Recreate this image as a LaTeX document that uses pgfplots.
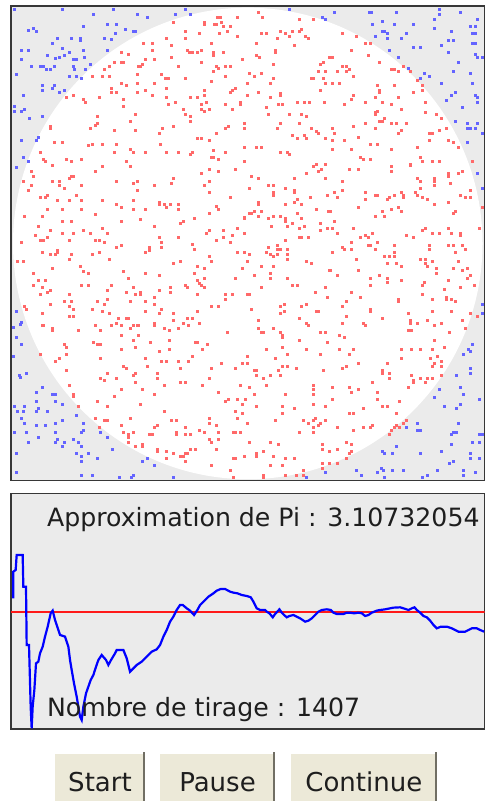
\documentclass[border=0pt]{standalone}
\usepackage{fontspec}
\setmainfont{DejaVu Sans}
\usepackage{pgfplots}
\pgfplotsset{compat=1.18}
\definecolor{panelgray}{RGB}{235,235,235}
\definecolor{framegray}{RGB}{55,55,55}
\definecolor{inpt}{RGB}{255,105,105}
\definecolor{outpt}{RGB}{100,100,255}
\definecolor{btnface}{RGB}{236,233,216}
\definecolor{btnshadow}{RGB}{113,111,100}
\definecolor{textdark}{RGB}{30,30,30}
\begin{document}
\begin{tikzpicture}
\path[use as bounding box] (0,0) rectangle (242.5pt,-400.5pt);
% --- points panel (coordinates in screen pixels x3) ---
\begin{axis}[
  at={(5.5pt,-240.25pt)}, anchor=south west,
  scale only axis, width=236.75pt, height=237.25pt,
  xmin=33, xmax=1453, ymin=18, ymax=1441, y dir=reverse,
  ticks=none, axis line style={framegray, line width=0.8pt},
  axis background/.style={fill=panelgray},
]
\fill[white] (axis cs:743,730) ellipse [x radius=704, y radius=707];
% outside the circle
\addplot[outpt, only marks, mark=square*, mark size=0.5pt, mark options={solid, fill=outpt, draw=outpt, line width=0.1pt}] coordinates {
(42,27) (185,27) (278,43) (340,27) (411,43) (440,51) (84,91) (99,85) (107,93) (249,77)
(321,71) (348,73) (376,87) (398,92) (406,92) (345,99) (170,114) (213,114) (241,115) (241,121)
(156,128) (313,115) (334,117) (63,149) (85,149) (185,143) (249,149) (320,149) (140,165) (164,175)
(178,171) (191,164) (207,156) (64,177) (220,178) (229,178) (252,171) (92,199) (119,199) (129,199)
(138,206) (150,206) (163,199) (219,199) (222,207) (269,193) (256,206) (49,221) (206,227) (228,227)
(242,233) (127,256) (127,270) (156,263) (163,256) (192,270) (177,277) (70,284) (42,319) (42,333)
(63,334) (71,327) (86,355) (127,348) (64,419) (107,419) (114,412) (70,471) (85,483)
(526,43) (555,27) (570,43) (868,27) (967,51) (975,58)
(1003,35) (1106,35) (1112,35) (1188,35) (1316,27) (1316,42) (1380,35) (1146,63) (1117,71) (1181,71)
(1238,71) (1302,57) (1430,57) (1409,77) (1424,77) (1146,92) (1153,92) (1160,99) (1124,107) (1217,99)
(1302,85) (1352,92) (1416,99) (1424,99) (1160,114) (1202,114) (1345,120) (1359,120) (1416,128) (1424,128)
(1166,150) (1238,142) (1259,142) (1323,135) (1345,156) (1424,163) (1430,170) (1445,170) (1195,170) (1373,185)
(1224,205) (1359,213) (1273,220) (1288,227) (1259,234) (1409,220) (1323,249) (1416,249) (1366,277) (1352,284)
(1424,284) (1430,291) (1338,299) (1430,306) (1387,320) (1366,363) (1402,370) (1430,370) (1402,384) (1409,384)
(1424,384) (1445,398) (1402,426)
(49,500) (49,933) (64,965) (59,971) (1430,520) (1445,563) (1445,911) (1445,940)
(40,980) (48,1012) (63,1033) (40,1068) (56,1126) (61,1132) (78,1118) (127,1161) (107,1175) (157,1182)
(164,1182) (42,1218) (71,1218) (107,1204) (50,1232) (70,1232) (107,1232) (114,1225) (142,1232) (164,1204)
(185,1211) (64,1253) (71,1268) (107,1275) (135,1275) (164,1268) (185,1261) (227,1246) (249,1268) (42,1296)
(78,1296) (114,1310) (164,1296) (242,1296) (249,1289) (299,1296) (85,1325) (164,1325) (171,1318) (192,1325)
(185,1339) (220,1318) (235,1325) (242,1339) (320,1310) (335,1346) (49,1360) (228,1360) (263,1360) (242,1367)
(242,1382) (292,1375) (427,1382) (441,1375) (462,1396) (49,1417) (242,1424) (277,1424) (356,1432) (392,1432)
(399,1424) (520,1432) (918,1432) (975,1417) (1068,1410) (1082,1424) (1132,1417) (1142,1403) (1150,1410) (1175,1410)
(1153,1432) (1210,1410) (1146,1353) (1153,1360) (1175,1360) (1189,1339) (1260,1360) (1267,1432) (1282,1424) (1310,1410)
(1324,1353) (1346,1389) (1360,1382) (1388,1410) (1388,1424) (1424,1417) (1410,1360) (1410,1375) (1438,1375) (1417,1325)
(1438,1325) (1354,1332) (1353,1303) (1360,1296) (1438,1303) (1445,1303) (1374,1268) (1367,1296) (1252,1268) (1252,1289)
(1260,1289) (1218,1282) (1331,1218) (1367,1225) (1381,1211) (1388,1182) (1381,1161) (1438,1196) (1302,1190) (1317,1168)
(1367,1126) (1410,1104) (1410,1118) (1388,1061) (1403,1047) (1410,1054) (1417,1033)
};
% inside the circle
\addplot[inpt, only marks, mark=square*, mark size=0.5pt, mark options={solid, fill=inpt, draw=inpt, line width=0.1pt}] coordinates {
(498,115) (428,128) (455,128) (455,149) (363,156) (385,163) (435,177) (463,177) (341,185) (364,185)
(370,185) (420,199) (426,193) (414,199) (327,199) (313,206) (277,227) (306,227) (328,227) (411,221)
(482,221) (495,234) (504,234) (363,249) (377,256) (411,249) (462,249) (334,263) (334,277) (349,277)
(411,277) (435,270) (455,284) (498,263) (220,284) (198,291) (298,291) (249,298) (256,306) (370,298)
(370,319) (498,291) (504,312) (405,341) (291,348) (292,369) (286,375) (270,384) (341,391) (391,363)
(405,391) (150,377) (150,384) (485,384) (477,398) (163,426) (185,425) (263,435) (277,433) (306,433)
(348,433) (480,433) (121,455) (342,455) (390,448) (399,455) (434,455) (497,455) (128,477) (136,483)
(198,477) (213,483) (243,477) (377,483)
(775,35) (785,51) (650,51) (660,51) (712,51) (520,65) (611,65) (611,72) (641,72) (648,72)
(662,65) (669,79) (690,79) (897,58) (940,58) (555,93) (597,100) (656,100) (680,93) (783,100)
(797,100) (840,93) (854,100) (876,93) (897,93) (904,86) (916,108) (924,115) (555,115) (711,108)
(832,115) (868,108) (512,135) (633,128) (768,128) (883,135) (562,150) (568,156) (576,156) (590,156)
(604,149) (640,156) (640,164) (668,156) (825,149) (825,156) (767,164) (776,171) (512,170) (725,177)
(986,170) (533,199) (604,185) (647,199) (654,205) (676,199) (690,199) (640,213) (818,192) (969,185)
(961,192) (953,213) (975,213) (555,235) (676,227) (747,220) (761,227) (783,220) (818,234) (934,234)
(940,234) (968,234) (633,242) (740,249) (810,249) (975,249) (612,270) (704,263) (697,270) (690,277)
(612,285) (569,291) (590,291) (740,284) (775,277) (811,291) (840,278) (840,285) (961,270) (526,307)
(604,312) (619,305) (676,312) (719,305) (719,312) (833,312) (847,312) (890,307) (911,307) (926,307)
(971,307) (548,327) (604,327) (626,327) (697,327) (797,320) (555,341) (612,334) (804,341) (868,341)
(904,341) (918,348) (569,348) (569,363) (518,377) (683,377) (676,384) (733,370) (733,384) (840,370)
(832,384) (897,370) (932,384) (947,392) (954,398) (647,398) (590,413) (604,413) (626,420) (876,406)
(890,413) (911,406) (918,413) (976,413) (533,455) (569,463) (576,455) (640,449) (676,455) (733,441)
(769,441) (783,441) (840,456) (861,456) (868,463) (633,470) (640,470) (654,477) (733,484) (947,491)
(976,491)
(1025,99) (1067,107) (1096,128) (1110,128) (995,170) (1053,149) (1103,164) (1138,185) (1025,199) (1039,199)
(1046,206) (1039,213) (1010,213) (1174,206) (1181,206) (1195,213) (1209,199) (1060,227) (1231,213) (995,248)
(1017,248) (1131,255) (1181,255) (1252,241) (1266,255) (1137,270) (1137,277) (1060,284) (1238,277) (1266,270)
(1053,298) (1124,291) (1195,291) (1031,312) (1096,306) (1146,306) (1174,312) (1274,305) (1124,335) (1131,334)
(1124,341) (1202,327) (1274,335) (1308,341) (1096,370) (1138,363) (1146,362) (1152,355) (1174,370) (1188,370)
(1217,370) (1323,355) (995,384) (1060,377) (1124,384) (1337,384) (1202,391) (1195,398) (1287,398) (1316,391)
(1295,398) (1002,398) (1031,419) (995,419) (1075,412) (1110,433) (1131,433) (1174,448) (1252,441) (1288,419)
(1344,419) (1359,426) (1373,441) (995,448) (1053,448) (1080,470) (1089,477) (1110,477) (1259,470) (1266,484)
(1295,484) (1316,484) (1230,491) (1416,484)
(92,513) (99,528) (155,495) (70,542) (92,556) (85,570) (156,542) (177,542) (177,556) (192,563)
(206,535) (213,528) (220,528) (242,556) (284,513) (305,499) (348,542) (391,499) (398,549) (412,542)
(412,570) (462,556) (120,592) (135,592) (142,585) (170,599) (206,599) (227,585) (242,599) (305,599)
(348,613) (362,620) (398,599) (398,627) (434,627) (476,606) (476,613) (491,613) (498,620) (142,627)
(185,627) (242,627) (71,649) (127,649) (185,663) (213,663) (284,642) (362,663) (419,656) (113,677)
(149,691) (185,698) (220,698) (249,691) (270,698) (305,684) (320,698) (462,677) (106,706) (142,712)
(121,720) (128,720) (206,720) (284,720) (298,720) (313,727) (476,712) (484,727) (484,741) (64,727)
(348,741) (363,734) (448,741) (448,749) (434,755) (127,755) (149,763) (164,763) (170,749) (170,755)
(213,763) (277,763) (298,755) (206,777) (50,784) (70,784) (327,777) (156,805) (241,798) (249,812)
(263,819) (99,819) (370,812) (434,819) (384,833) (476,826) (114,840) (135,840) (99,855) (242,855)
(263,855) (334,855) (127,862) (149,869) (142,876) (398,862) (476,869) (320,869) (377,876) (406,883)
(419,876) (419,883) (120,883) (206,883) (462,890) (320,897) (291,904) (313,911) (192,904) (213,904)
(149,911) (391,904) (434,904) (462,911) (206,919) (220,926) (277,926) (306,933) (327,940) (71,919)
(78,926) (127,940) (434,933) (476,940) (484,926) (206,947) (220,947) (355,954) (377,954) (384,954)
(348,968) (398,975) (412,975) (462,968) (127,975)
(626,507) (655,513) (704,507) (604,520) (518,535) (512,549) (626,542) (611,556) (753,528) (775,535)
(746,563) (626,577) (689,591) (804,556) (818,556) (818,577) (818,584) (854,563) (882,535) (882,570)
(882,577) (918,520) (940,499) (955,513) (962,507) (976,535) (931,591) (982,584) (890,598) (882,605)
(904,612) (854,612) (510,612) (533,612) (533,626) (647,619) (654,626) (775,605) (775,612) (761,633)
(754,640) (747,640) (732,650) (732,655) (782,633) (775,647) (804,655) (818,647) (840,647) (854,655)
(854,662) (890,640) (947,626) (984,633) (626,640) (583,655) (548,662) (540,669) (812,677) (860,677)
(875,669) (902,655) (911,677) (961,669) (961,690) (982,684) (533,712) (626,691) (618,698) (669,691)
(669,712) (711,684) (697,705) (732,698) (647,719) (690,726) (854,719) (896,684) (896,712) (904,712)
(925,712) (576,733) (583,748) (804,741) (832,734) (832,748) (839,748) (811,762) (832,762) (860,748)
(860,762) (860,776) (818,769) (797,755) (711,755) (732,755) (747,762) (626,769) (633,783) (519,790)
(540,783) (740,783) (918,783) (932,790) (590,797) (611,804) (782,797) (818,797) (725,804) (988,811)
(583,819) (761,826) (811,819) (811,833) (861,833) (704,833) (611,833) (590,840) (597,848) (604,854)
(612,862) (554,854) (562,862) (510,862) (510,876) (590,883) (676,883) (697,883) (740,883) (747,883)
(782,862) (875,854) (890,854) (975,862) (946,876) (982,890) (676,897) (853,911) (918,911) (904,919)
(633,919) (655,919) (754,926) (839,919) (590,933) (853,933) (947,933) (954,933) (519,940) (840,940)
(562,954) (576,954) (896,954) (519,961) (775,961) (548,968) (597,968) (918,968) (925,975)
(1046,506) (1074,506) (1174,499) (1174,513) (1230,495) (1025,542) (1025,570) (1003,577) (1010,591) (1096,577)
(1096,598) (1124,584) (1131,584) (1160,598) (1167,591) (1181,584) (1202,577) (1209,584) (1209,591) (1252,535)
(1259,542) (1301,535) (1301,542) (1301,556) (1259,563) (1344,520) (1344,527) (1373,520) (1387,513) (1351,549)
(1245,577) (1252,584) (1266,591) (1280,598) (1301,612) (1344,605) (1380,584) (1394,591) (1409,591) (1409,570)
(1445,620) (990,633) (1074,620) (1124,648) (1145,633) (1153,648) (1174,626) (1195,620) (1202,633) (1358,640)
(1366,633) (1002,662) (996,684) (1010,698) (1060,684) (1081,712) (1096,705) (1103,712) (1117,698) (1103,734)
(1110,734) (1131,726) (1124,748) (1053,726) (1025,741) (1032,748) (1053,748) (996,755) (1217,705) (1238,712)
(1266,691) (1274,684) (1295,698) (1316,698) (1344,684) (1352,698) (1380,698) (1380,705) (1436,684) (1181,734)
(1181,755) (1288,734) (1288,748) (1344,734) (1359,734) (1387,734) (1394,748) (1366,755) (1153,769) (1167,769)
(1181,769) (1160,790) (1188,790) (1202,797) (1259,776) (1274,776) (1274,790) (1281,797) (1295,783) (1309,804)
(1309,819) (1373,783) (1359,804) (1387,811) (1402,804) (1409,826) (1402,833) (1067,776) (1074,811) (990,811)
(1010,826) (1110,833) (1110,854) (1138,826) (1160,833) (1160,847) (1202,840) (1273,847) (1266,854) (1345,840)
(1380,861) (1422,854) (1331,868) (1338,890) (1338,897) (1352,897) (1366,904) (1266,883) (1295,897) (1053,876)
(1081,890) (1039,904) (1025,919) (1195,897) (1195,904) (1110,926) (1110,933) (1223,940) (1295,933) (1352,933)
(1409,940) (1430,947) (1039,947) (1146,954) (1025,968) (1088,968) (1096,975) (1230,961) (1230,968) (1252,968)
(1280,961) (1323,968) (1387,961)
(129,975) (156,983) (156,990) (235,990) (285,975) (299,990) (334,975) (363,975) (391,983) (400,975)
(413,975) (463,975) (491,983) (506,990) (534,983) (563,975) (682,997) (775,983) (782,997) (790,997)
(818,983) (839,997) (846,1005) (846,1012) (925,975) (960,997) (975,997) (1018,1005) (1032,1012) (1096,975)
(1225,990) (1232,990) (1303,975) (1346,997) (1396,983)
(192,1033) (278,1026) (292,1033) (299,1033) (363,1004) (399,1019) (413,1004) (449,1026) (506,1019) (584,1026)
(591,1026) (620,1033) (896,1019) (981,1026) (1303,1019) (1331,1040)
(199,1040) (199,1061) (120,1061) (299,1075) (363,1047) (405,1040) (477,1054) (506,1047) (605,1047) (797,1047)
(846,1040) (860,1061) (917,1047) (960,1061) (1017,1047) (1046,1061) (1060,1047) (1203,1047) (1232,1047) (1260,1047)
(1296,1047) (1310,1068)
(164,1083) (178,1075) (199,1111) (434,1075) (441,1097) (484,1083) (498,1083) (534,1083) (563,1083) (577,1068)
(662,1090) (705,1104) (727,1090) (741,1090) (741,1068) (762,1111) (769,1111) (826,1075) (847,1097) (861,1097)
(889,1104) (968,1111) (1025,1104) (1039,1097) (1075,1090) (1146,1111) (1160,1090) (1203,1075) (1289,1075) (1296,1097)
(1303,1090) (1324,1083) (1324,1097)
(206,1154) (299,1133) (313,1140) (320,1118) (348,1133) (370,1097) (377,1104) (399,1125) (406,1118) (406,1147)
(470,1118) (470,1133) (491,1154) (541,1147) (555,1147) (541,1104) (605,1154) (627,1133) (633,1104) (655,1175)
(719,1154) (747,1161) (769,1125) (790,1133) (797,1154) (811,1125) (833,1111) (840,1125) (939,1154) (939,1168)
(996,1161) (1046,1161) (1053,1175) (1075,1168) (1117,1147) (1131,1175) (1146,1118) (1167,1118) (1167,1133) (1225,1161)
(1232,1125) (1239,1140) (1239,1147) (1260,1133) (1275,1147) (1282,1133) (1296,1133) (1324,1125)
(220,1182) (220,1189) (235,1218) (292,1204) (320,1218) (341,1189) (363,1168) (391,1253) (420,1211) (463,1182)
(491,1232) (427,1168) (675,1204) (684,1196) (712,1196) (727,1211) (734,1196) (762,1182) (769,1218) (705,1232)
(712,1254) (846,1218) (847,1239) (854,1182) (882,1225) (939,1182) (939,1211) (975,1218) (996,1196) (1046,1239)
(1060,1239) (1089,1225) (1132,1196) (1132,1175) (1146,1218) (1160,1218) (1196,1204) (1189,1239)
(284,1254) (313,1261) (320,1261) (363,1275) (470,1275) (513,1261) (527,1261) (555,1282) (627,1254) (627,1268)
(648,1275) (727,1239) (740,1268) (826,1261) (910,1261) (925,1268) (939,1261) (946,1254) (953,1275) (960,1268)
(975,1261) (939,1282) (1011,1282) (1060,1289) (1089,1282) (1110,1282) (1117,1275) (1174,1289) (1182,1282) (1189,1275)
(1196,1282) (1210,1268) (1217,1261) (1167,1303)
(298,1282) (370,1296) (384,1303) (384,1310) (399,1296) (384,1325) (405,1339) (427,1332) (427,1339) (448,1303)
(456,1303) (463,1282) (527,1296) (527,1303) (555,1303) (570,1303) (598,1289) (612,1296) (633,1325) (627,1318)
(655,1296) (655,1318) (698,1296) (705,1296) (719,1296) (747,1325) (811,1325) (833,1332) (896,1296) (939,1296)
(967,1332) (1038,1325) (1053,1332)
(470,1346) (470,1353) (498,1353) (520,1360) (541,1367) (548,1367) (555,1360) (562,1360) (570,1346) (555,1382)
(498,1375) (584,1346) (648,1346) (698,1375) (705,1375) (733,1367) (769,1360) (769,1367) (790,1353) (818,1367)
(854,1375) (882,1375) (967,1346) (988,1353) (1010,1346) (1046,1360) (1053,1353) (1039,1375) (967,1389) (988,1389)
(1010,1389)
(633,1396) (690,1410) (811,1396) (847,1396) (790,1424) (790,1432) (854,1424) (889,1424) (910,1424) (910,1410)
(967,1403) (698,1432)
};
\end{axis}
% --- convergence panel ---
\begin{axis}[
  at={(5.5pt,-364.5pt)}, anchor=south west,
  scale only axis, width=236.75pt, height=117.85pt,
  xmin=33, xmax=1453, ymin=10, ymax=717, y dir=reverse,
  ticks=none, axis line style={framegray, line width=0.8pt},
  axis background/.style={fill=panelgray},
]
\addplot[red!90!white, line width=1.1pt] coordinates {(33,367) (1453,367)};
\addplot[blue, line width=1.1pt] coordinates {
(40,325) (40,245) (47,240) (50,195) (68,195) (70,290) (78,290) (80,465) (87,465) (92,650)
(95,715) (98,650) (103,600) (108,520) (115,515) (120,490) (128,470) (135,440) (143,410) (152,370)
(158,362) (165,390) (175,420) (180,435) (195,440) (205,470) (210,510) (215,540) (222,580) (230,620)
(240,680) (245,690) (250,650) (258,610) (265,590) (272,570) (280,555) (288,530) (295,510) (305,495)
(318,510) (325,525) (333,510) (345,490) (350,480) (370,480) (380,505) (390,545) (400,535) (410,525)
(425,515) (435,505) (445,495) (455,485) (470,478) (480,465) (490,440) (500,420) (510,395) (520,380)
(530,360) (540,345) (548,345) (560,355) (570,362) (582,375) (592,360) (600,345) (610,335) (625,320)
(640,310) (650,302) (662,297) (675,297) (690,305) (700,308) (712,310) (725,315) (740,318) (752,322)
(760,335) (770,355) (780,360) (795,360) (800,365) (808,370) (818,382) (825,372) (838,358) (845,368)
(852,375) (860,382) (868,378) (880,375) (890,380) (900,385) (915,395) (925,392) (935,385) (945,375)
(955,365) (965,360) (980,358) (992,360) (1000,368) (1010,372) (1030,372) (1040,368) (1050,368) (1062,370)
(1075,368) (1085,370) (1095,378) (1105,375) (1115,368) (1130,362) (1140,360) (1155,358) (1170,355) (1180,353)
(1200,352) (1210,355) (1225,360) (1235,355) (1243,352) (1250,360) (1260,368) (1270,378) (1280,382) (1290,392)
(1300,405) (1310,415) (1322,410) (1340,410) (1355,415) (1365,420) (1375,425) (1395,425) (1405,420) (1415,415)
(1430,415) (1440,420) (1452,425)
};
\node[anchor=base west, inner sep=0pt, text=textdark, font=\fontsize{12.6}{15}\selectfont]
  at (axis cs:140,110) {Approximation de Pi : 3.10732054};
\node[anchor=base west, inner sep=0pt, text=textdark, font=\fontsize{12.6}{15}\selectfont]
  at (axis cs:140,680) {Nombre de tirage : 1407};
\end{axis}
% --- buttons ---
\foreach \xa/\xb/\lab in {27.5/72.5/Start, 80/137.5/Pause, 145.35/218.5/Continue}{
  \fill[btnface] (\xa pt,-377pt) rectangle (\xb pt,-400.5pt);
  \draw[btnshadow, line width=0.8pt] (\xb pt-0.4pt,-376pt) -- (\xb pt-0.4pt,-400.5pt);
  \node[anchor=base, inner sep=0pt, text=textdark, font=\fontsize{13}{15}\selectfont]
    at ({(\xa+\xb)/2*1pt},-395.85pt) {\lab};
}
\end{tikzpicture}
\end{document}
